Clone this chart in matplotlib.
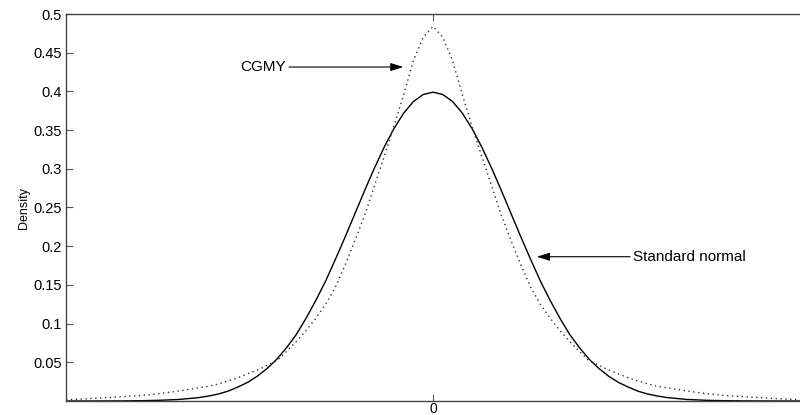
import matplotlib
matplotlib.use('Agg')
import matplotlib.pyplot as plt

# values
x_vals = [-4.7, -4.5, -4.0, -3.75, -3.5, -3.25, -3.0, -2.875, -2.75, -2.625, -2.5, -2.375,
          -2.25, -2.125, -2.0, -1.875, -1.75, -1.625, -1.5, -1.375, -1.25, -1.125,
          -1.0, -0.875, -0.75, -0.625, -0.5, -0.375, -0.25, -0.125, 0.0,
          0.125, 0.25, 0.375, 0.5, 0.625, 0.75, 0.875, 1.0,
          1.125, 1.25, 1.375, 1.5, 1.625, 1.75, 1.875, 2.0, 2.125, 2.25,
          2.375, 2.5, 2.625, 2.75, 2.875, 3.0, 3.25, 3.5, 3.75, 4.0, 4.5, 4.7]

normal_density = [0.0, 0.0, 0.0001, 0.0004, 0.0009, 0.002, 0.0044, 0.0064, 0.009, 0.0127, 0.018, 0.024,
                  0.032, 0.042, 0.054, 0.069, 0.086, 0.107, 0.130, 0.155, 0.183, 0.212,
                  0.242, 0.272, 0.301, 0.328, 0.352, 0.372, 0.387, 0.396, 0.399,
                  0.396, 0.387, 0.372, 0.352, 0.328, 0.301, 0.272, 0.242,
                  0.212, 0.183, 0.155, 0.130, 0.107, 0.086, 0.069, 0.054, 0.042, 0.032,
                  0.024, 0.018, 0.0127, 0.009, 0.0064, 0.0044, 0.002, 0.0009, 0.0004, 0.0001, 0.0, 0.0]

cgmy_density = [0.0018, 0.0025, 0.0055, 0.007, 0.0095, 0.013, 0.017, 0.019, 0.022, 0.026, 0.030, 0.035,
                0.040, 0.046, 0.052, 0.064, 0.077, 0.091, 0.107, 0.125, 0.147, 0.176,
                0.207, 0.240, 0.278, 0.316, 0.355, 0.396, 0.440, 0.470, 0.484,
                0.470, 0.440, 0.396, 0.355, 0.316, 0.278, 0.240, 0.207,
                0.176, 0.147, 0.125, 0.107, 0.091, 0.077, 0.064, 0.052, 0.046, 0.040,
                0.035, 0.030, 0.026, 0.022, 0.019, 0.017, 0.013, 0.0095, 0.007, 0.0055, 0.0025, 0.0018]

y_ticks = [0.05, 0.1, 0.15, 0.2, 0.25, 0.3, 0.35, 0.4, 0.45, 0.5]
y_tick_labels = ['0.05', '0.1', '0.15', '0.2', '0.25', '0.3', '0.35', '0.4', '0.45', '0.5']

plt.rcParams['font.family'] = ['Liberation Sans', 'DejaVu Sans']

fig = plt.figure(figsize=(8, 4.15), dpi=100)
ax = fig.add_axes([66 / 800, 14 / 415, 734 / 800, 387 / 415])

ax.plot(x_vals, normal_density, color='black', linewidth=1.0, linestyle='-')
ax.plot(x_vals, cgmy_density, color='#333333', linewidth=1.0, linestyle=(0, (1, 2.5)))

ax.set_xlim(-4.7, 4.7)
ax.set_ylim(0, 0.5)
ax.set_xticks([0])
ax.set_xticklabels(['0'])
ax.set_yticks(y_ticks)
ax.set_yticklabels(y_tick_labels)
ax.set_ylabel('Density', fontsize=9, labelpad=2)

ax.tick_params(direction='in', length=5, width=0.8, color='#555555',
               labelsize=10.5, top=True, pad=3)
ax.tick_params(axis='x', pad=1, labelsize=10)
for side in ['left', 'bottom', 'top']:
    ax.spines[side].set_color('#444444')
    ax.spines[side].set_linewidth(1.0)
ax.spines['right'].set_visible(False)

arrow = dict(arrowstyle='-|>,head_length=0.7,head_width=0.22', color='black',
             lw=0.8, shrinkA=0, shrinkB=0)
ax.annotate('CGMY', xy=(-0.38, 0.4315), xytext=(-1.88, 0.4315),
            ha='right', va='center', fontsize=11, arrowprops=arrow)
ax.annotate('Standard normal', xy=(1.33, 0.1864), xytext=(2.56, 0.1864),
            ha='left', va='center', fontsize=11, arrowprops=arrow)

plt.savefig('out.png', dpi=100)
